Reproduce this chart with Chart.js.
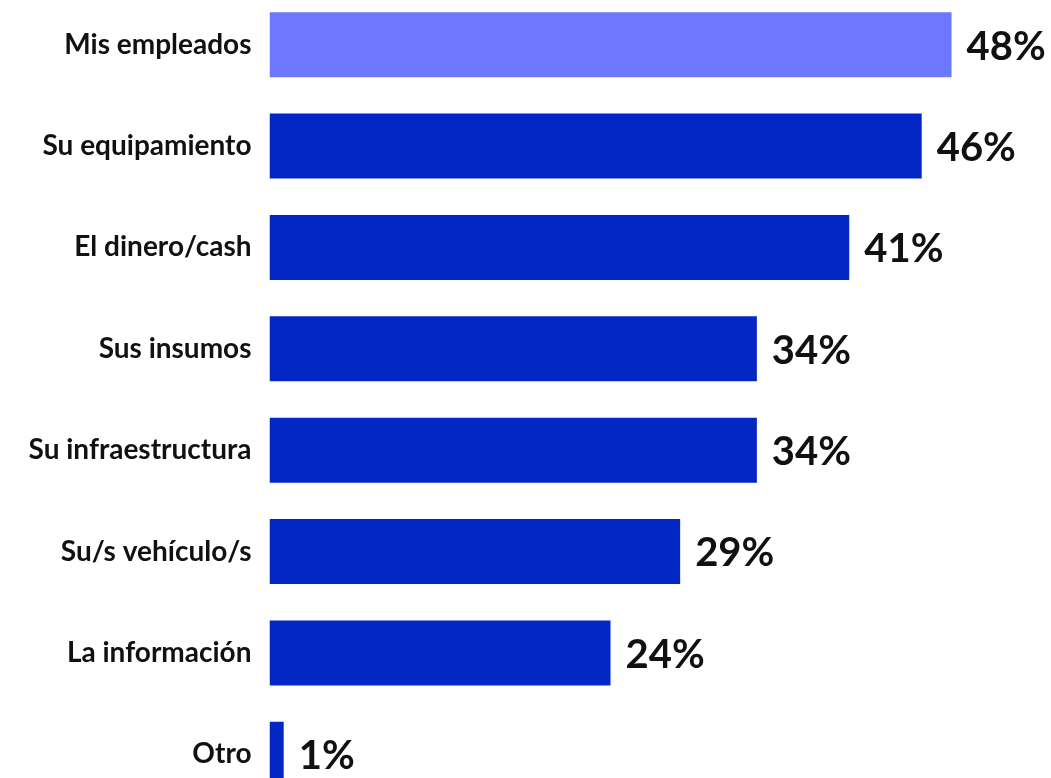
<!DOCTYPE html>
<html>
<head>
<meta charset="utf-8">
<script src="https://cdn.jsdelivr.net/npm/chart.js@4/dist/chart.umd.min.js"></script>
<style>
html,body{margin:0;padding:0;background:#fff;overflow:hidden;width:1051px;height:778px;}
#wrap{position:absolute;left:0;top:-6px;width:1051px;height:811px;}
</style>
</head>
<body>
<div id="wrap"><canvas id="c"></canvas></div>
<script>
const categories = ["Mis empleados","Su equipamiento","El dinero/cash","Sus insumos","Su infraestructura","Su/s vehículo/s","La información","Otro"];
const values = [48,45.9,40.8,34.3,34.3,28.9,24,1];
const valueLabels = ["48%","46%","41%","34%","34%","29%","24%","1%"];
const barColors = ["#6B78FF","#0327C4","#0327C4","#0327C4","#0327C4","#0327C4","#0327C4","#0327C4"];

const valuePlugin = {
  id:'valueLabels',
  afterDatasetsDraw(chart){
    const ctx = chart.ctx;
    const meta = chart.getDatasetMeta(0);
    ctx.save();
    ctx.font = 'bold 40px Lato';
    ctx.fillStyle = '#111';
    ctx.textAlign = 'left';
    ctx.textBaseline = 'middle';
    meta.data.forEach((bar,i)=>{
      ctx.fillText(valueLabels[i], bar.x + 15, bar.y + 2);
    });
    ctx.restore();
  }
};

new Chart(document.getElementById('c'),{
  type:'bar',
  data:{labels:categories,datasets:[{data:values,backgroundColor:barColors,borderWidth:0,categoryPercentage:0.64,barPercentage:1}]},
  options:{
    indexAxis:'y',
    responsive:true,maintainAspectRatio:false,animation:false,
    layout:{padding:0},
    plugins:{legend:{display:false},tooltip:{enabled:false}},
    scales:{
      x:{display:false,min:0,max:55,afterFit(s){s.paddingLeft=0;s.paddingRight=0;}},
      y:{
        grid:{display:false,drawTicks:false},border:{display:false},
        ticks:{color:'#111',font:{family:'Lato',size:28,weight:'bold'},padding:18},
        afterFit(s){s.width=269.5;s.paddingTop=0;s.paddingBottom=0;}
      }
    }
  },
  plugins:[valuePlugin]
});
</script>
</body>
</html>
